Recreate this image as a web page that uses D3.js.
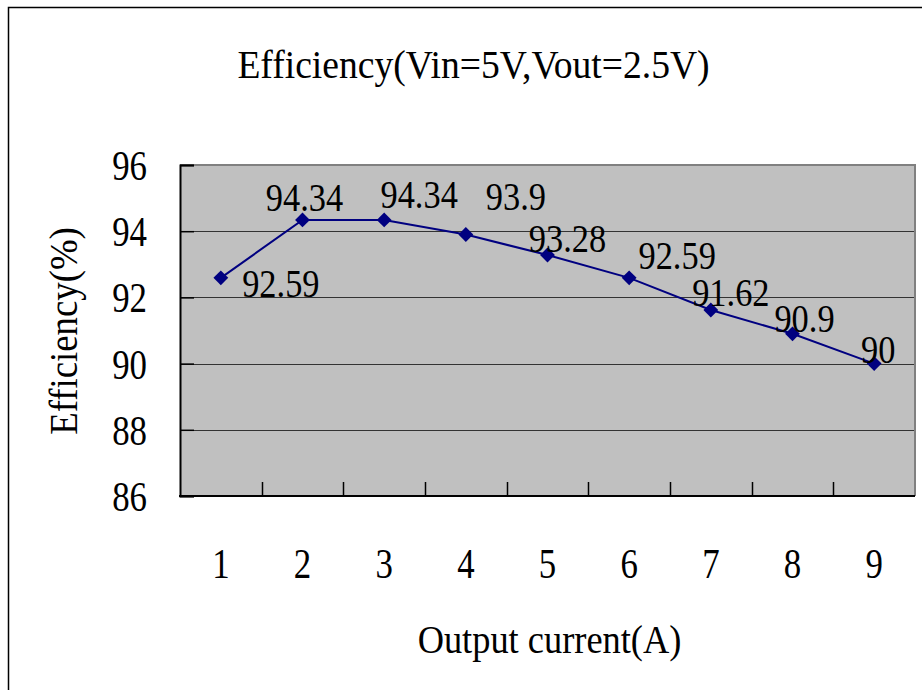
<!DOCTYPE html>
<html>
<head>
<meta charset="utf-8">
<script src="https://cdn.jsdelivr.net/npm/d3@7"></script>
<style>
  html, body { margin: 0; padding: 0; background: #fff; }
  svg { display: block; }
  svg text { font-family: "Liberation Serif", "Times New Roman", Times, "DejaVu Serif", "Noto Serif", serif; fill: #000; }
</style>
</head>
<body>
<svg id="chart" width="922" height="690"></svg>
<script>
// ---- data ----
const categories = ["1", "2", "3", "4", "5", "6", "7", "8", "9"];
const efficiency = [92.59, 94.34, 94.34, 93.9, 93.28, 92.59, 91.62, 90.9, 90];
const yTicks = [86, 88, 90, 92, 94, 96];
const titleText = "Efficiency(Vin=5V,Vout=2.5V)";
const xTitle = "Output current(A)";
const yTitle = "Efficiency(%)";
// label placement (manual offsets as in reference: [dx of label center, dy of baseline])
const labelOffsets = [[60, 19], [2, -9], [35, -12], [50, -25], [20, -3], [48, -9], [20, -4], [12, -2], [4, -1]];

const FONT = '"Liberation Serif", "Times New Roman", Times, "DejaVu Serif", serif';

// ---- layout ----
const svg = d3.select("#chart");
const plot = { left: 180, right: 915, top: 165, bottom: 496 };

const x = d3.scaleBand().domain(categories).range([plot.left, plot.right]).padding(0);
const y = d3.scaleLinear().domain([86, 96]).range([plot.bottom, plot.top]);

// outer frame
svg.append("rect").attr("x", 8.5).attr("y", 7.5).attr("width", 1000).attr("height", 1000)
  .attr("fill", "none").attr("stroke", "#000").attr("stroke-width", 1.5);

// plot background
svg.append("rect").attr("x", plot.left).attr("y", plot.top)
  .attr("width", plot.right - plot.left).attr("height", plot.bottom - plot.top)
  .attr("fill", "#c0c0c0");

// gridlines
svg.append("g").selectAll("line").data(yTicks.filter(d => d > 86 && d < 96)).join("line")
  .attr("x1", plot.left).attr("x2", plot.right)
  .attr("y1", d => Math.round(y(d)) + 0.5).attr("y2", d => Math.round(y(d)) + 0.5)
  .attr("stroke", "#333").attr("stroke-width", 1);

// plot border top/right (gray)
svg.append("path")
  .attr("d", `M${plot.left},${plot.top} H${plot.right} V${plot.bottom}`)
  .attr("fill", "none").attr("stroke", "#808080").attr("stroke-width", 2);

// y axis (inside ticks)
const yAxis = d3.axisRight(y).tickValues(yTicks).tickSize(14).tickFormat("");
const gy = svg.append("g").attr("transform", `translate(${plot.left},0)`).call(yAxis);
gy.select(".domain").attr("stroke", "#000").attr("stroke-width", 2);
gy.selectAll(".tick line").attr("stroke", "#000").attr("stroke-width", 1.5);

// y tick labels
svg.append("g").selectAll("text").data(yTicks).join("text")
  .attr("transform", d => `translate(147,${y(d) + 15}) scale(0.83,1)`)
  .attr("text-anchor", "end")
  .attr("font-family", FONT)
  .attr("font-size", 42)
  .text(d => d);

// x axis: ticks between categories, inside
const xBoundaries = categories.slice(1);
const gx = svg.append("g");
gx.append("line").attr("x1", plot.left - 1).attr("x2", plot.right)
  .attr("y1", plot.bottom).attr("y2", plot.bottom)
  .attr("stroke", "#000").attr("stroke-width", 2);
gx.selectAll("line.tk").data(xBoundaries).join("line").attr("class", "tk")
  .attr("x1", d => Math.round(x(d)) + 0.5).attr("x2", d => Math.round(x(d)) + 0.5)
  .attr("y1", plot.bottom).attr("y2", plot.bottom - 14)
  .attr("stroke", "#000").attr("stroke-width", 1.5);

// x tick labels
svg.append("g").selectAll("text").data(categories).join("text")
  .attr("transform", d => `translate(${x(d) + x.bandwidth() / 2},578) scale(0.83,1)`)
  .attr("text-anchor", "middle")
  .attr("font-family", FONT)
  .attr("font-size", 42)
  .text(d => d);

// line
const pts = categories.map((c, i) => ({ c, v: efficiency[i], i }));
const line = d3.line().x(d => x(d.c) + x.bandwidth() / 2).y(d => y(d.v));
svg.append("path").datum(pts).attr("d", line)
  .attr("fill", "none").attr("stroke", "#000080").attr("stroke-width", 2);

// markers (diamonds)
const sym = d3.symbol().type(d3.symbolSquare).size(110);
svg.append("g").selectAll("path").data(pts).join("path")
  .attr("d", sym)
  .attr("transform", d => `translate(${x(d.c) + x.bandwidth() / 2},${y(d.v)}) rotate(45)`)
  .attr("fill", "#000080");

// data labels
svg.append("g").selectAll("text").data(pts).join("text")
  .attr("transform", d => `translate(${x(d.c) + x.bandwidth() / 2 + labelOffsets[d.i][0]},${y(d.v) + labelOffsets[d.i][1]}) scale(0.86,1)`)
  .attr("text-anchor", "middle")
  .attr("font-family", FONT)
  .attr("font-size", 40)
  .text(d => d.v);

// title
svg.append("text")
  .attr("transform", "translate(473.5,78) scale(0.94,1)")
  .attr("text-anchor", "middle").attr("font-family", FONT).attr("font-size", 40)
  .text(titleText);

// x title
svg.append("text")
  .attr("transform", "translate(549.5,653) scale(0.91,1)")
  .attr("text-anchor", "middle").attr("font-family", FONT).attr("font-size", 40)
  .text(xTitle);

// y title
svg.append("text")
  .attr("transform", "translate(77,331) rotate(-90) scale(0.92,1)")
  .attr("text-anchor", "middle").attr("font-family", FONT).attr("font-size", 40)
  .text(yTitle);
</script>
</body>
</html>
